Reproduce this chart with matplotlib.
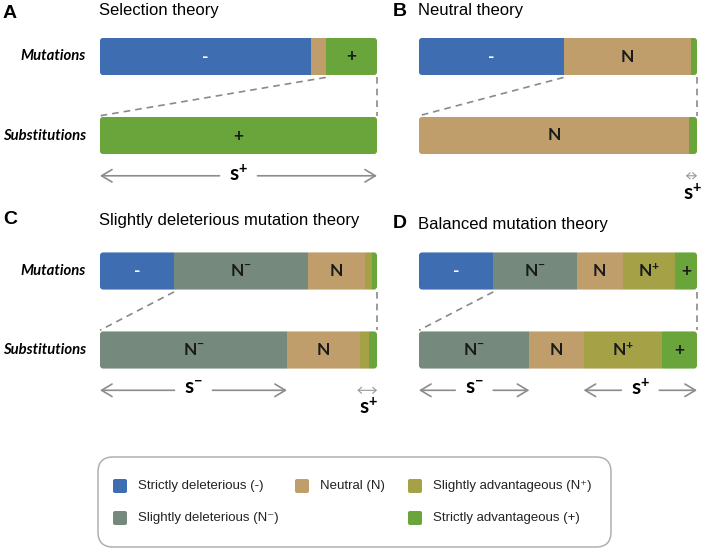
import numpy as np
import matplotlib
matplotlib.use('Agg')
import matplotlib.pyplot as plt
from matplotlib.patches import FancyBboxPatch

plt.rcParams['mathtext.fontset'] = 'custom'
plt.rcParams['mathtext.bf'] = 'Lato:bold'
plt.rcParams['mathtext.rm'] = 'Lato:bold'

# classes: strictly deleterious, slightly deleterious, neutral, slightly adv., strictly adv.
class_marks = ['-', r'$\mathbf{N^{-}}$', 'N', r'$\mathbf{N^{+}}$', '+']
class_colors = ['#3f6db1', '#758a7d', '#bf9e6c', '#a4a146', '#6aa53b']
legend_labels = ['Strictly deleterious (-)', 'Slightly deleterious (N⁻)', 'Neutral (N)',
                 'Slightly advantageous (N⁺)', 'Strictly advantageous (+)']

panel_letters = ['A', 'B', 'C', 'D']
titles = ['Selection theory', 'Neutral theory',
          'Slightly deleterious mutation theory', 'Balanced mutation theory']
row_labels = ['Mutations', 'Substitutions']

# share (%) of each class in mutations / substitutions
mut_A = [76.0, 0, 5.5, 0, 18.5]
sub_A = [0, 0, 0, 0, 100.0]
mut_B = [52.0, 0, 46.0, 0, 2.0]
sub_B = [0, 0, 97.0, 0, 3.0]
mut_C = [26.7, 48.4, 20.6, 2.5, 1.8]
sub_C = [0, 67.5, 26.4, 3.2, 2.9]
mut_D = [26.7, 30.0, 16.6, 18.8, 7.9]
sub_D = [0, 39.7, 19.5, 28.2, 12.6]

# selection coefficient ranges on the substitution bar: (first class, last class, sign)
s_A = [(4, 4, '+')]
s_B = [(4, 4, '+')]
s_C = [(1, 1, '-'), (3, 4, '+')]
s_D = [(1, 1, '-'), (3, 4, '+')]

W, H = 711, 551
fig = plt.figure(figsize=(W / 100, H / 100), dpi=100)


def fx(x):
    return x / W


def fy(y):
    return 1 - y / H


row_px = 79.0   # pixels between the two bar rows
bar_h = 0.47    # bar height in row units
ytop, ybot = -0.3, 1.95

# bar left, bar right, centre of mutation row (pixels)
layout = [(100, 377, 56.5), (419, 697, 56.5), (100, 377, 271), (419, 697, 271)]
letter_pos = [(3, 14), (393, 11), (3, 219), (393, 224)]
title_y = [11, 11, 221, 224]
panels = [(mut_A, sub_A, s_A), (mut_B, sub_B, s_B), (mut_C, sub_C, s_C), (mut_D, sub_D, s_D)]

for k, ((x0, x1, cy), (mut, sub, sranges)) in enumerate(zip(layout, panels)):
    top = cy + ytop * row_px
    bot = cy + ybot * row_px
    ax = fig.add_axes([fx(x0), fy(bot), (x1 - x0) / W, (bot - top) / H])
    ax.set_xlim(0, 100)
    ax.set_ylim(ybot, ytop)
    ax.axis('off')
    px_per_x = (x1 - x0) / 100.0

    for row, vals in enumerate([mut, sub]):
        vals = np.array(vals)
        lefts = np.concatenate([[0], np.cumsum(vals)[:-1]])
        frame = FancyBboxPatch((0, row - bar_h / 2), 100, bar_h,
                               boxstyle='round,pad=0,rounding_size=1.1',
                               mutation_aspect=px_per_x / row_px,
                               transform=ax.transData, facecolor='none', edgecolor='none')
        ax.add_patch(frame)
        bars = ax.barh([row] * 5, vals, left=lefts, height=bar_h,
                       color=class_colors, edgecolor='none')
        for b in bars:
            b.set_clip_path(frame)
        for i in range(5):
            if vals[i] > 7:
                ax.text(lefts[i] + vals[i] / 2, row, class_marks[i],
                        ha='center', va='center', fontsize=12.5, fontweight='bold',
                        family=['Lato', 'DejaVu Sans'],
                        color='white' if i == 0 else '#1a1a1a')

    # dashed lines linking the mutation bar to the substitution bar
    first = next(i for i in range(5) if sub[i] > 0)
    start = sum(mut[:first])
    y_a = bar_h / 2 + 0.03
    y_b = 1 - bar_h / 2 - 0.015
    ax.plot([start, 0], [y_a, y_b], ls=(0, (4, 3)), color='#8a8a8a', lw=1.2, clip_on=False)
    ax.plot([100, 100], [y_a, y_b], ls=(0, (4, 3)), color='#8a8a8a', lw=1.2, clip_on=False)

    # selection coefficient arrows
    y_ar = 1.51
    aprops = dict(arrowstyle='->,head_length=0.75,head_width=0.45', color='#8c8c8c',
                  lw=1.2, shrinkA=0, shrinkB=0, mutation_scale=10)
    for i, j, sign in sranges:
        a = sum(sub[:i])
        b = sum(sub[:j + 1])
        c = (a + b) / 2
        lab = r'$\mathbf{s^{%s}}$' % sign
        if b - a > 15:
            gap = 19 / px_per_x
            ax.annotate('', xy=(a, y_ar), xytext=(c - gap, y_ar), arrowprops=aprops,
                        annotation_clip=False)
            ax.annotate('', xy=(b, y_ar), xytext=(c + gap, y_ar), arrowprops=aprops,
                        annotation_clip=False)
            ax.text(c, y_ar - 0.02, lab, ha='center', va='center', fontsize=15)
        else:
            small = dict(aprops, arrowstyle='<->,head_length=0.25,head_width=0.22', lw=0.8,
                         color='#999999')
            ax.annotate('', xy=(a - 1.0, y_ar), xytext=(b, y_ar), arrowprops=small,
                        annotation_clip=False)
            ax.text(c, y_ar + 0.22, lab, ha='center', va='center', fontsize=15)

    # panel letter and title
    lx, ly = letter_pos[k]
    fig.text(fx(lx), fy(ly), panel_letters[k],
             fontsize=14, fontweight='bold', family='Liberation Sans', va='center')
    fig.text(fx(x0 - 1), fy(title_y[k]), titles[k], fontsize=12,
             family='Liberation Sans', va='center')

    if k % 2 == 0:
        for row, lab in enumerate(row_labels):
            fig.text(fx(86), fy(cy + row * row_px), lab, ha='right', va='center',
                     fontsize=10.7, fontweight='bold', style='italic', family='Lato')

# legend
lax = fig.add_axes([fx(96), fy(549), (613 - 96) / W, (549 - 455) / H])
lax.set_xlim(96, 613)
lax.set_ylim(549, 455)
lax.axis('off')
lax.add_patch(FancyBboxPatch((98, 457), 513, 90, boxstyle='round,pad=0,rounding_size=15',
                             facecolor='white', edgecolor='#b0b0b0', lw=1.1))
legend_pos = [(113, 486), (113, 518), (295, 486), (408, 486), (408, 518)]
for (lx, ly), col, lab in zip(legend_pos, class_colors, legend_labels):
    lax.add_patch(FancyBboxPatch((lx, ly - 7), 14, 14, boxstyle='round,pad=0,rounding_size=2',
                                 facecolor=col, edgecolor='none'))
    lax.text(lx + 25, ly, lab, va='center', ha='left', fontsize=9.5,
             family=['Liberation Sans', 'DejaVu Sans'], color='#222222')

fig.savefig('out.png', dpi=100)
